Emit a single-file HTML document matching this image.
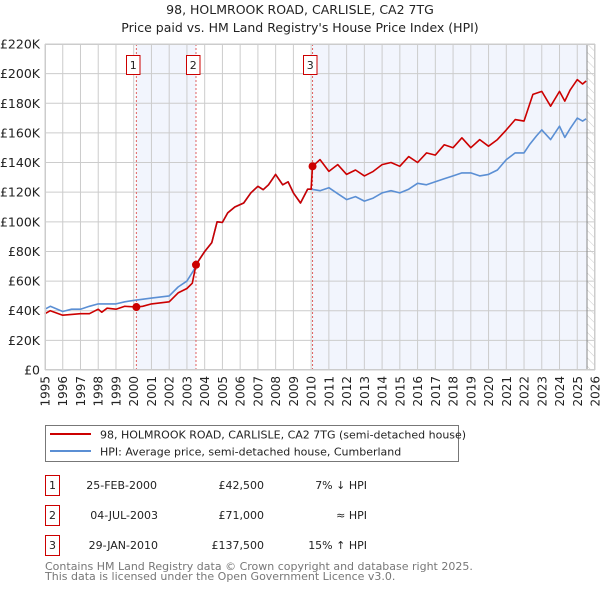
<!DOCTYPE html>
<html><head><meta charset="utf-8"><style>
body{margin:0;background:#fff;font-family:"Liberation Sans","DejaVu Sans",sans-serif;}
svg text{font-family:"DejaVu Sans","Liberation Sans",sans-serif;}
</style></head><body>
<svg id="chart" width="600" height="590" xmlns="http://www.w3.org/2000/svg">
<text x="300" y="14" text-anchor="middle" font-size="12.5" fill="#222">98, HOLMROOK ROAD, CARLISLE, CA2 7TG</text>
<text x="300" y="32" text-anchor="middle" font-size="12.5" fill="#222">Price paid vs. HM Land Registry's House Price Index (HPI)</text>
<g id="plot"></g>
<g>
<rect x="45.5" y="425.5" width="413" height="36" fill="#fff" stroke="#777"/>
<line x1="50" y1="434" x2="91" y2="434" stroke="#cc0000" stroke-width="2"/>
<text x="100" y="438.5" font-size="11" fill="#222">98, HOLMROOK ROAD, CARLISLE, CA2 7TG (semi-detached house)</text>
<line x1="50" y1="451" x2="91" y2="451" stroke="#5b8fd4" stroke-width="2"/>
<text x="100" y="455.5" font-size="11" fill="#222">HPI: Average price, semi-detached house, Cumberland</text>
</g>
<g font-size="11" fill="#222">
<rect x="45.5" y="475.5" width="14" height="20" fill="#fff" stroke="#cc0000"/><text x="52.5" y="489" text-anchor="middle">1</text>
<text x="157" y="489" text-anchor="end">25-FEB-2000</text><text x="264" y="489" text-anchor="end">£42,500</text><text x="367" y="489" text-anchor="end">7% ↓ HPI</text>
<rect x="45.5" y="505.5" width="14" height="20" fill="#fff" stroke="#cc0000"/><text x="52.5" y="519" text-anchor="middle">2</text>
<text x="158" y="519" text-anchor="end">04-JUL-2003</text><text x="264" y="519" text-anchor="end">£71,000</text><text x="367" y="519" text-anchor="end">≈ HPI</text>
<rect x="45.5" y="535.5" width="14" height="20" fill="#fff" stroke="#cc0000"/><text x="52.5" y="549" text-anchor="middle">3</text>
<text x="158" y="549" text-anchor="end">29-JAN-2010</text><text x="264" y="549" text-anchor="end">£137,500</text><text x="367" y="549" text-anchor="end">15% ↑ HPI</text>
</g>
<text x="45" y="570" font-size="11" fill="#777">Contains HM Land Registry data © Crown copyright and database right 2025.</text>
<text x="45" y="580" font-size="11" fill="#777">This data is licensed under the Open Government Licence v3.0.</text>
</svg>
<script>
const yearTicks=[1995,1996,1997,1998,1999,2000,2001,2002,2003,2004,2005,2006,2007,2008,2009,2010,2011,2012,2013,2014,2015,2016,2017,2018,2019,2020,2021,2022,2023,2024,2025,2026];
const valueTicks=[0,20,40,60,80,100,120,140,160,180,200,220];
const valueTickLabels=["£0","£20K","£40K","£60K","£80K","£100K","£120K","£140K","£160K","£180K","£200K","£220K"];
const hpiDates=[1995,1995.3,1996,1996.5,1997,1997.5,1998,1998.5,1999,1999.5,2000,2001,2002,2002.5,2003,2003.4,2003.6,2004,2004.4,2004.7,2005,2005.3,2005.7,2006.2,2006.6,2007,2007.3,2007.6,2008,2008.4,2008.7,2009,2009.4,2009.8,2010,2010.5,2011,2011.5,2012,2012.5,2013,2013.5,2014,2014.5,2015,2015.5,2016,2016.5,2017,2017.5,2018,2018.5,2019,2019.5,2020,2020.5,2021,2021.5,2022,2022.3,2022.7,2023,2023.5,2024,2024.3,2024.6,2025,2025.3,2025.5];
const hpiValues=[41,43,39.5,41,41,43,44.6,44.6,44.6,46,47,48.5,50,56,60,67.6,73,80,86,100,99.6,106,110,112.7,119.5,124,121.7,125,132,125,127,119.5,112.7,122,122,121,123,119,115,117,114,116,119.5,121,119.5,122,126,125,127,129,131,133,133,131,132,135,142,146.5,146.5,152,158,162,155.5,164.5,157,163,170,168,169.5];
const priceDates=[1995,1995.3,1996,1997,1997.5,1998,1998.2,1998.5,1999,1999.5,2000.15,2000.5,2001,2002,2002.5,2003,2003.3,2003.51,2004,2004.4,2004.7,2005,2005.3,2005.7,2006.2,2006.6,2007,2007.3,2007.6,2008,2008.4,2008.7,2009,2009.4,2009.8,2010,2010.08,2010.5,2011,2011.5,2012,2012.5,2013,2013.5,2014,2014.5,2015,2015.5,2016,2016.5,2017,2017.5,2018,2018.5,2019,2019.5,2020,2020.5,2021,2021.5,2022,2022.5,2023,2023.5,2024,2024.3,2024.6,2025,2025.3,2025.5];
const priceValues=[38,40,37,38,38,41,39,41.7,41,43,42.5,43,44.6,46,52,55,58.6,71,80,86,100,99.6,106,110,112.7,119.5,124,121.7,125,132,125,127,119.5,112.7,122,122,137.5,142,134,138.6,132,135,131,134,138.6,140,137.5,144,140,146.5,145,152,150,156.7,150,155.5,151,155.5,162,169,168,186,188,178,188,181.5,189,196,193,195];
const saleDates=[2000.15,2003.51,2010.08];
const saleValues=[42.5,71,137.5];
const saleLabels=["1","2","3"];
const NS="http://www.w3.org/2000/svg";
const L=45,R=595,T=44,B=370,X0=1995,X1=2026,YMAX=220,dataEnd=2025.55;
const xs=d=>L+(d-X0)/(X1-X0)*(R-L);
const ys=v=>B-v/YMAX*(B-T);
const plot=document.getElementById('plot');
function mk(tag,attrs,parent){const e=document.createElementNS(NS,tag);for(const k in attrs)e.setAttribute(k,attrs[k]);(parent||plot).appendChild(e);return e;}
const defs=mk('defs',{});
const pat=mk('pattern',{id:'hatch',width:6,height:6,patternUnits:'userSpaceOnUse',patternTransform:'rotate(-45)'},defs);
mk('line',{x1:0,y1:0,x2:0,y2:6,stroke:'#ccc','stroke-width':1},pat);
let s1=mk('rect',{x:xs(saleDates[0]),y:T,width:xs(saleDates[1])-xs(saleDates[0]),height:B-T,fill:'#f2f5fd'});


let s2=mk('rect',{x:xs(saleDates[2]),y:T,width:xs(dataEnd)-xs(saleDates[2]),height:B-T,fill:'#f2f5fd'});


let h=mk('rect',{x:xs(dataEnd),y:T,width:R-xs(dataEnd),height:B-T,fill:'url(#hatch)'});


yearTicks.forEach(y=>{
  mk('line',{x1:xs(y),y1:T,x2:xs(y),y2:B,stroke:'#cccccc','stroke-width':1});
  const t=mk('text',{x:xs(y)+4.5,y:B+6,transform:`rotate(-90 ${xs(y)+4.5} ${B+6})`,'text-anchor':'end','font-size':12,fill:'#222'});
  t.textContent=y;
  
  
});
valueTicks.forEach((v,i)=>{
  mk('line',{x1:L,y1:ys(v),x2:R,y2:ys(v),stroke:'#cccccc','stroke-width':1});
  const t=mk('text',{x:40,y:ys(v)+4.5,'text-anchor':'end','font-size':12.5,fill:'#222'});
  t.textContent=valueTickLabels[i];
  
  
});
mk('line',{x1:xs(dataEnd),y1:T,x2:xs(dataEnd),y2:B,stroke:'#888','stroke-width':1});
saleDates.forEach((d,i)=>{
  mk('line',{x1:xs(d),y1:T,x2:xs(d),y2:B,stroke:'#e06060','stroke-width':1,'stroke-dasharray':'2,2'});
  const bx=Math.round(xs(d)-10)+0.5;
  const r=mk('rect',{x:bx,y:55.5,width:13.5,height:19,fill:'#fff',stroke:'#cc0000'});
  
  
  const t=mk('text',{x:bx+6.75,y:69,'text-anchor':'middle','font-size':11,fill:'#222'});
  t.textContent=saleLabels[i];
});
const pts=(ds,vs)=>ds.map((d,i)=>xs(d).toFixed(1)+','+ys(vs[i]).toFixed(1)).join(' ');
const hl=mk('polyline',{points:pts(hpiDates,hpiValues),fill:'none',stroke:'#5b8fd4','stroke-width':1.6,'stroke-linejoin':'round'});


const pl=mk('polyline',{points:pts(priceDates,priceValues),fill:'none',stroke:'#cc0000','stroke-width':1.6,'stroke-linejoin':'round'});


saleDates.forEach((d,i)=>{
  const c=mk('circle',{cx:xs(d),cy:ys(saleValues[i]),r:4,fill:'#cc0000'});
  
  
});
mk('rect',{x:L+0.5,y:T+0.5,width:R-L-1,height:B-T-1,fill:'none',stroke:'#cccccc'});
</script>
</body></html>
